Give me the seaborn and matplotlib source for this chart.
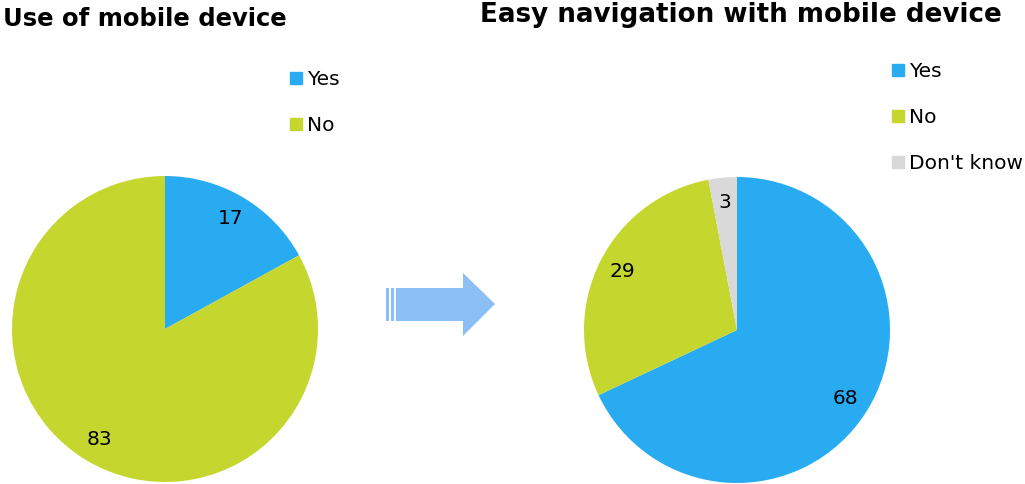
import matplotlib
matplotlib.use("Agg")
import matplotlib.pyplot as plt
from matplotlib.patches import Polygon, Rectangle
from matplotlib.lines import Line2D
import seaborn as sns

# --- data ---
use_labels = ["Yes", "No"]
use_values = [17, 83]

nav_labels = ["Yes", "No", "Don't know"]
nav_values = [68, 29, 3]

BLUE = "#29abf2"
GREEN = "#c5d62f"
GREY = "#d9d9d9"
ARROW = "#8bbff5"

sns.set_theme(style="white")
plt.rcParams["font.family"] = ["DejaVu Sans"]
plt.rcParams["text.color"] = "black"

fig = plt.figure(figsize=(10.25, 4.84), dpi=100)

W, H = 1025, 484


def pie_axes(cx, cy, r):
    return fig.add_axes([(cx - r) / W, (H - cy - r) / H, 2 * r / W, 2 * r / H])


def draw_pie(ax, values, colors):
    wedges, texts = ax.pie(values, labels=[str(v) for v in values], colors=colors,
                           startangle=90, counterclock=False, labeldistance=0.84,
                           wedgeprops=dict(linewidth=0, edgecolor="none"),
                           textprops=dict(fontsize=14.5, color="black"))
    for t in texts:
        t.set_ha("center")
        t.set_va("center")
    ax.set_xlim(-1, 1)
    ax.set_ylim(-1, 1)
    ax.set_aspect("equal")
    return wedges


ax1 = pie_axes(165, 329, 153)
draw_pie(ax1, use_values, [BLUE, GREEN])

ax2 = pie_axes(737, 330, 153)
draw_pie(ax2, nav_values, [BLUE, GREEN, GREY])

# titles
fig.text(3 / W, 1 - 19 / H, "Use of mobile device", fontsize=17.5, fontweight="bold",
         ha="left", va="center")
fig.text(480 / W, 1 - 15 / H, "Easy navigation with mobile device", fontsize=18.8,
         fontweight="bold", ha="left", va="center")

# legends
def sq(c):
    return Line2D([], [], marker="s", linestyle="none", markersize=9,
                  markerfacecolor=c, markeredgecolor=c)

fig.legend([sq(BLUE), sq(GREEN)], use_labels, loc="upper left",
           bbox_to_anchor=(282 / W, 1 - 66 / H), frameon=False, fontsize=14.5,
           handletextpad=0.05, labelspacing=1.33, handlelength=1.0,
           borderaxespad=0, borderpad=0.2)
fig.legend([sq(BLUE), sq(GREEN), sq(GREY)], nav_labels, loc="upper left",
           bbox_to_anchor=(884 / W, 1 - 58 / H), frameon=False, fontsize=14.5,
           handletextpad=0.05, labelspacing=1.33, handlelength=1.0,
           borderaxespad=0, borderpad=0.2)

# arrow between the pies
ov = fig.add_axes([0, 0, 1, 1], facecolor="none")
ov.set_xlim(0, W)
ov.set_ylim(H, 0)
ov.axis("off")
ov.add_patch(Polygon([(396, 288), (463, 288), (463, 273), (495, 304),
                      (463, 336), (463, 321), (396, 321)], closed=True,
                     facecolor=ARROW, edgecolor="none"))
ov.add_patch(Rectangle((386, 288), 3, 33, facecolor=ARROW, edgecolor="none"))
ov.add_patch(Rectangle((390.5, 288), 3.5, 33, facecolor=ARROW, edgecolor="none"))

fig.savefig("out.png", dpi=100)
